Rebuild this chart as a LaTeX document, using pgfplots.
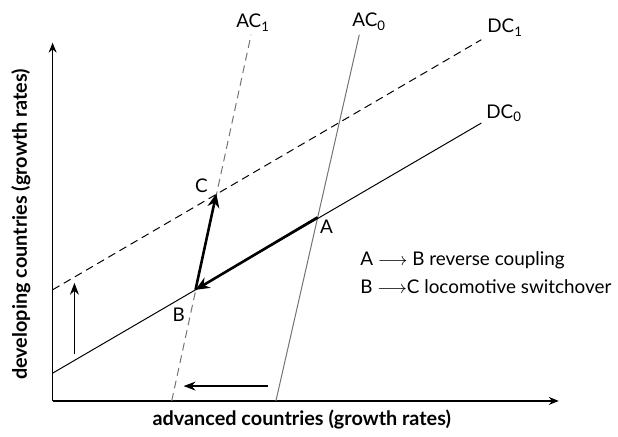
\documentclass[border=0pt]{standalone}
\usepackage{pgfplots}
\pgfplotsset{compat=1.18}
\usepackage{fontspec}
\setmainfont{Lato}
\usetikzlibrary{arrows.meta}
\begin{document}
\begin{tikzpicture}
\begin{axis}[
  x=0.5pt, y=0.5pt,
  xmin=53, xmax=563, ymin=0, ymax=361,
  axis lines=left,
  axis line style={line width=0.6pt, -{Stealth[length=5pt,width=4pt]}},
  xtick=\empty, ytick=\empty,
  clip=false,
  every axis plot/.append style={line width=0.5pt},
]
% invisible frame for bounding box
\path (axis cs:0,-32) rectangle (axis cs:618,404);
% DC0 solid
\addplot[black] coordinates {(53,28) (485,280)};
% DC1 dashed
\addplot[black, dash pattern=on 4pt off 2.5pt] coordinates {(53,112) (485,364)};
% AC0 gray solid
\addplot[black!55] coordinates {(278,0) (362,369)};
% AC1 gray dashed
\addplot[black!55, dash pattern=on 4pt off 2.5pt] coordinates {(173,0) (253,369)};
% thick arrows A->B, B->C
\addplot[black, line width=1.3pt, -{Stealth[length=7pt,width=6pt]}] coordinates {(320,185) (197,112)};
\addplot[black, line width=1.3pt, -{Stealth[length=7pt,width=6pt]}] coordinates {(197,112) (218,209)};
% thin shift arrows
\addplot[black, line width=0.6pt, -{Stealth[length=6pt,width=4.5pt]}] coordinates {(75,47) (75,119)};
\addplot[black, line width=0.6pt, -{Stealth[length=6pt,width=4.5pt]}] coordinates {(270,15) (185,15)};
% labels
\node[font=\fontsize{9.5}{11}\selectfont] at (axis cs:329,176) {A};
\node[font=\fontsize{9.5}{11}\selectfont] at (axis cs:180,87) {B};
\node[font=\fontsize{9.5}{11}\selectfont] at (axis cs:203,217) {C};
\node[font=\fontsize{9.5}{11}\selectfont] at (axis cs:508,290) {DC\textsubscript{0}};
\node[font=\fontsize{9.5}{11}\selectfont] at (axis cs:509,376) {DC\textsubscript{1}};
\node[font=\fontsize{9.5}{11}\selectfont] at (axis cs:372,382) {AC\textsubscript{0}};
\node[font=\fontsize{9.5}{11}\selectfont] at (axis cs:255,381) {AC\textsubscript{1}};
\node[anchor=west, font=\fontsize{9.5}{11}\selectfont] at (axis cs:356,142) {A $\longrightarrow$ B reverse coupling};
\node[anchor=west, font=\fontsize{9.5}{11}\selectfont] at (axis cs:356,115) {B $\longrightarrow$C locomotive switchover};
\node[font=\bfseries\fontsize{10}{12}\selectfont] at (axis cs:304,-19) {advanced countries (growth rates)};
\node[rotate=90, font=\bfseries\fontsize{10}{12}\selectfont] at (axis cs:21,178) {developing countries (growth rates)};
\end{axis}
\end{tikzpicture}
\end{document}
